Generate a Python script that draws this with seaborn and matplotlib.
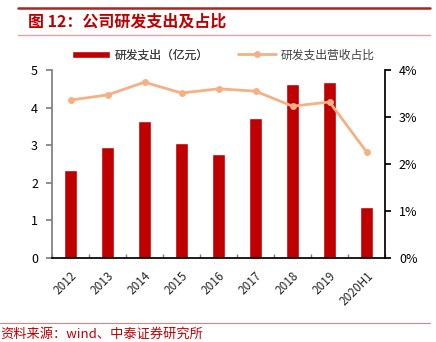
import matplotlib
matplotlib.use("Agg")
import matplotlib.pyplot as plt
import seaborn as sns
import pandas as pd
import numpy as np
from matplotlib.ticker import FuncFormatter, FixedLocator

sns.set_theme(style="white")
plt.rcParams['font.family'] = ['Noto Sans CJK SC', 'DejaVu Sans']

categories = ["2012", "2013", "2014", "2015", "2016", "2017", "2018", "2019", "2020H1"]
rd_spend = [2.35, 2.96, 3.65, 3.06, 2.77, 3.72, 4.64, 4.68, 1.36]
rd_ratio = [3.36, 3.47, 3.74, 3.51, 3.60, 3.55, 3.23, 3.32, 2.26]

df = pd.DataFrame({"year": categories, "spend": rd_spend, "ratio": rd_ratio})

W, H = 436, 342
fig = plt.figure(figsize=(W / 100, H / 100), dpi=100)
ax = fig.add_axes([52 / W, (H - 258) / H, (385 - 52) / W, (258 - 70) / H])

bar_color = "#C00000"
line_color = "#F4B183"

sns.barplot(data=df, x="year", y="spend", color=bar_color, width=0.36,
            saturation=1, ax=ax, label="研发支出（亿元）")
ax2 = ax.twinx()
x = np.arange(len(categories))
sns.lineplot(x=x, y=df["ratio"], color=line_color, linewidth=2, marker="o",
             markersize=5, markeredgewidth=0, ax=ax2, label="研发支出营收占比")

ax.set_xlim(-0.5, len(categories) - 0.5)
ax.set_ylim(0, 5)
ax.set_yticks([0, 1, 2, 3, 4, 5])
ax2.set_ylim(0, 4)
ax2.set_yticks([0, 1, 2, 3, 4])
ax2.yaxis.set_major_formatter(FuncFormatter(lambda v, p: f"{int(v)}%"))
ax.set_xlabel("")
ax.set_ylabel("")
ax2.set_ylabel("")

for a in (ax, ax2):
    a.spines["top"].set_visible(False)
ax.spines["right"].set_visible(False)
ax.spines["left"].set_color("#808080")
ax.spines["bottom"].set_color("#000000")
ax2.spines["left"].set_visible(False)
ax2.spines["bottom"].set_visible(False)
ax2.spines["right"].set_color("#000000")

ax.tick_params(axis="y", direction="out", length=4, color="#808080", left=True,
               labelsize=9, labelcolor="black", pad=6)
ax.set_xticks(x)
ax.set_xticklabels(categories, rotation=45, ha="right", rotation_mode="anchor", fontsize=8.5)
ax.tick_params(axis="x", bottom=False, pad=2)
ax.xaxis.set_minor_locator(FixedLocator(np.arange(-0.5, len(categories), 1.0)))
ax.tick_params(axis="x", which="minor", bottom=True, direction="in", length=3, color="#808080")
ax2.tick_params(axis="y", direction="out", length=4, color="black", right=True,
                labelsize=9, labelcolor="black", pad=6)

for lg in (ax.get_legend(), ax2.get_legend()):
    if lg:
        lg.remove()

h1, l1 = ax.get_legend_handles_labels()
h2, l2 = ax2.get_legend_handles_labels()
leg1 = fig.legend(h1, l1, loc="center left", bbox_to_anchor=(72 / W, 1 - 55 / H),
                  frameon=False, fontsize=8.5, handlelength=3.2, handleheight=0.6,
                  handletextpad=0.4, labelcolor="#404040", borderaxespad=0, borderpad=0)
fig.add_artist(leg1)
fig.legend(h2, l2, loc="center left", bbox_to_anchor=(238 / W, 1 - 55 / H),
           frameon=False, fontsize=8.5, handlelength=3.2,
           handletextpad=0.4, labelcolor="#404040", borderaxespad=0, borderpad=0)

red = "#C00000"
fig.add_artist(plt.Line2D([18 / W, 430 / W], [1 - 8 / H, 1 - 8 / H], color="#B22222", lw=1.8))
fig.add_artist(plt.Line2D([18 / W, 430 / W], [1 - 35 / H, 1 - 35 / H], color="#E8A0A0", lw=1))
fig.text(28 / W, 1 - 22 / H, "图 12：公司研发支出及占比", color=red, fontsize=11.5,
         fontweight="bold", va="center", ha="left")
fig.add_artist(plt.Line2D([0, 430 / W], [1 - 323 / H, 1 - 323 / H], color="#E08080", lw=0.8))
fig.text(0 / W, 1 - 334 / H, "资料来源：wind、中泰证券研究所", color=red, fontsize=9.5,
         va="center", ha="left")

fig.savefig("out.png", dpi=100)
